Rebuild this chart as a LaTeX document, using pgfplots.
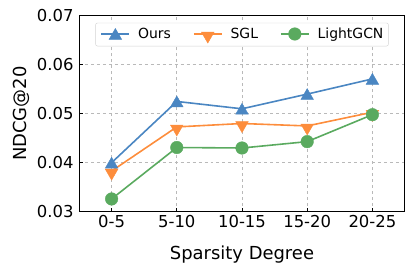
\documentclass[border=0pt]{standalone}
\usepackage{pgfplots}
\pgfplotsset{compat=1.18}
\usepackage{fontspec}
\setmainfont{DejaVu Sans}
\definecolor{cblue}{RGB}{74,134,194}
\definecolor{corange}{RGB}{253,141,60}
\definecolor{cgreen}{RGB}{90,170,95}
\begin{document}
\begin{tikzpicture}
\useasboundingbox (0,0) rectangle (416bp,269bp);
\begin{axis}[
  at={(79bp,57.3bp)}, anchor=south west,
  scale only axis, width=326bp, height=196bp,
  xmin=-0.5, xmax=4.5, ymin=0.03, ymax=0.07,
  xtick={0,1,2,3,4},
  xticklabels={0-5,5-10,10-15,15-20,20-25},
  ytick={0.03,0.04,0.05,0.06,0.07},
  yticklabel style={font=\fontsize{16.5}{16.5}\selectfont, xshift=-2bp, /pgf/number format/.cd, fixed, fixed zerofill, precision=2, assume math mode=true},
  xticklabel style={font=\fontsize{16.5}{16.5}\selectfont},
  scaled y ticks=false,
  tick align=inside, tick pos=left,
  major tick length=4bp,
  tick style={black, line width=0.8bp},
  axis line style={black, line width=1bp},
  grid=major, grid style={dashed, gray!55, line width=0.6bp},
  xlabel={Sparsity Degree}, ylabel={NDCG@20},
  every axis x label/.style={at={(axis description cs:0.5,0)}, anchor=base, yshift=-48bp, font=\fontsize{18}{18}\selectfont},
  every axis y label/.style={at={(axis description cs:0,0.5)}, anchor=center, rotate=90, yshift=58bp, font=\fontsize{18}{18}\selectfont},
  legend style={at={(0.5,0.964)}, anchor=north, legend columns=3,
    font=\fontsize{14}{14}\selectfont, draw=gray!35, rounded corners=2bp,
    nodes={inner xsep=0bp},
    /tikz/every odd column/.append style={column sep=8bp},
    /tikz/every even column/.append style={column sep=22bp},
    inner xsep=5bp, inner ysep=3bp},
  legend image code/.code={\draw[mark repeat=2,mark phase=2] plot coordinates {(0bp,0bp)(14bp,0bp)(28bp,0bp)};},
  legend cell align=left,
  every axis plot/.append style={line width=1.6bp},
]
\addplot[color=cblue, mark=triangle*, mark size=7.3bp, mark options={line width=0.4bp, yshift=-1.8bp}] coordinates {
(0,0.0400) (1,0.0525) (2,0.0510) (3,0.0540) (4,0.0571)};
\addlegendentry{Ours}
\addplot[color=corange, mark=triangle*, mark size=7.3bp, mark options={rotate=180, line width=0.4bp, yshift=1.8bp}] coordinates {
(0,0.0383) (1,0.0473) (2,0.0480) (3,0.0475) (4,0.0503)};
\addlegendentry{SGL}
\addplot[color=cgreen, mark=*, mark size=6.3bp, mark options={line width=0.4bp}] coordinates {
(0,0.0326) (1,0.0431) (2,0.0430) (3,0.0443) (4,0.0498)};
\addlegendentry{LightGCN}
\end{axis}
\end{tikzpicture}
\end{document}
